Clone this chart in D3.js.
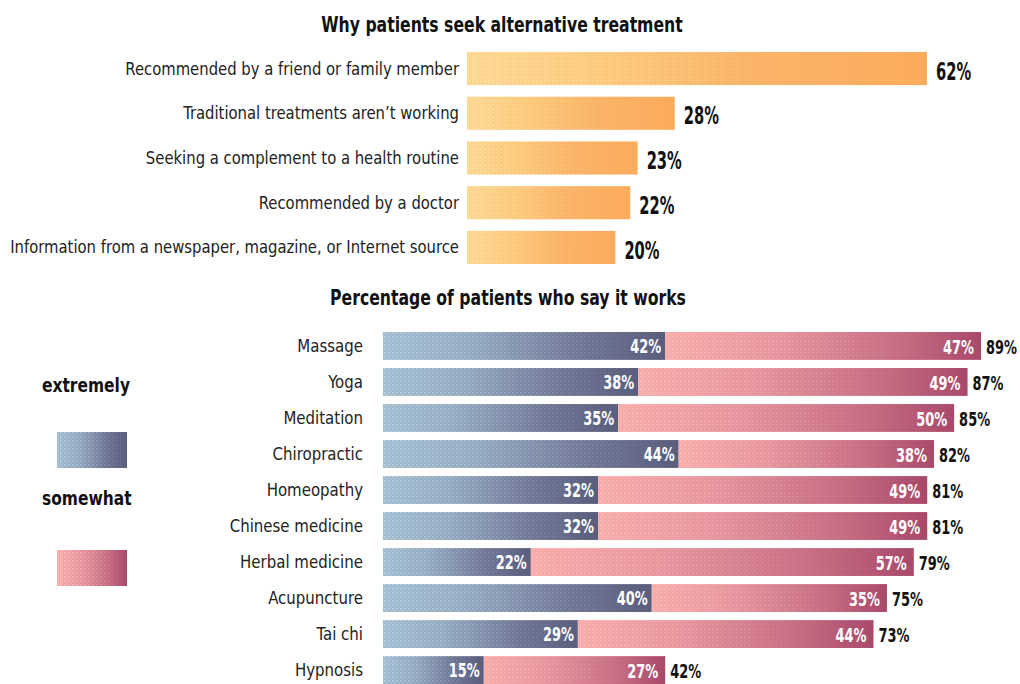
<!DOCTYPE html>
<html>
<head>
<meta charset="utf-8">
<script src="https://cdn.jsdelivr.net/npm/d3@7"></script>
<style>
  html, body { margin: 0; padding: 0; background: #fff; }
  svg { display: block; }
</style>
</head>
<body>
<svg id="chart" width="1020" height="684"></svg>
<script>
// ---------- DATA ----------
const topTitle = "Why patients seek alternative treatment";
const reasons = [
  "Recommended by a friend or family member",
  "Traditional treatments aren\u2019t working",
  "Seeking a complement to a health routine",
  "Recommended by a doctor",
  "Information from a newspaper, magazine, or Internet source"
];
const reasonValues = [62, 28, 23, 22, 20];

const bottomTitle = "Percentage of patients who say it works";
const therapies = ["Massage", "Yoga", "Meditation", "Chiropractic", "Homeopathy",
  "Chinese medicine", "Herbal medicine", "Acupuncture", "Tai chi", "Hypnosis"];
const extremely = [42, 38, 35, 44, 32, 32, 22, 40, 29, 15];
const somewhat  = [47, 49, 50, 38, 49, 49, 57, 35, 44, 27];
const totals    = [89, 87, 85, 82, 81, 81, 79, 75, 73, 42];
const legendLabels = ["extremely", "somewhat"];

// ---------- SETUP ----------
const FONT = "'DejaVu Sans Condensed', 'Liberation Sans Narrow', 'Arial Narrow', sans-serif";
const svg = d3.select("#chart");
const defs = svg.append("defs");

function grad(id, stops) {
  const g = defs.append("linearGradient").attr("id", id)
    .attr("x1", "0%").attr("x2", "100%").attr("y1", "0%").attr("y2", "0%");
  stops.forEach(s => g.append("stop").attr("offset", s[0]).attr("stop-color", s[1]));
}
grad("gOrange", [["0%", "#fdd68c"], ["30%", "#fcc878"], ["60%", "#fbb264"], ["100%", "#fbab5b"]]);
grad("gBlue", [["0%", "#9fbcd2"], ["30%", "#93aac2"], ["70%", "#6e7595"], ["100%", "#5a5d7c"]]);
grad("gPink", [["0%", "#f8aaa9"], ["35%", "#e8939c"], ["75%", "#c46a80"], ["100%", "#a9496a"]]);
grad("gFade", [["0%", "#fff"], ["60%", "#888"], ["100%", "#000"]]);

const mask = defs.append("mask").attr("id", "mFade")
  .attr("maskContentUnits", "objectBoundingBox");
mask.append("rect").attr("x", 0).attr("y", 0).attr("width", 1).attr("height", 1)
  .attr("fill", "url(#gFade)");

// dither-like dot pattern
function dots(id, color, op) {
  const p = defs.append("pattern").attr("id", id).attr("width", 4).attr("height", 4)
    .attr("patternUnits", "userSpaceOnUse");
  p.append("rect").attr("x", 0).attr("y", 0).attr("width", 1.3).attr("height", 1.3)
    .attr("fill", color).attr("opacity", op);
  p.append("rect").attr("x", 2).attr("y", 2).attr("width", 1.3).attr("height", 1.3)
    .attr("fill", color).attr("opacity", op * 0.6);
}
dots("dLight", "#ffffff", 0.45);

// condensed text helper: real text, horizontally compressed
function ctext(parent, x, y, str, opts) {
  const g = parent.append("g").attr("transform", `translate(${x},${y}) scale(${opts.sx || 1},1)`);
  return g.append("text").attr("x", 0).attr("y", 0).attr("dy", opts.dy || "0.35em")
    .attr("text-anchor", opts.anchor || "start")
    .attr("font-family", FONT).attr("font-weight", opts.bold ? "bold" : "normal")
    .attr("font-size", opts.size).attr("fill", opts.fill || "#111").text(str);
}

// ---------- TOP CHART ----------
const xTop = d3.scaleLinear().domain([0, 62]).range([467, 927]);
const yTop = d3.scaleBand().domain(reasons).range([52, 264]).paddingInner(0.26);

ctext(svg, 502, 25, topTitle, { size: 21, bold: true, sx: 0.83, anchor: "middle" });

const tg = svg.append("g");
reasons.forEach((r, i) => {
  const y = yTop(r), h = yTop.bandwidth(), w = xTop(reasonValues[i]) - xTop(0);
  tg.append("rect").attr("x", xTop(0)).attr("y", y).attr("width", w).attr("height", h)
    .attr("fill", "url(#gOrange)");
  tg.append("rect").attr("x", xTop(0)).attr("y", y).attr("width", w).attr("height", h)
    .attr("fill", "url(#dLight)").attr("mask", "url(#mFade)");
  ctext(tg, xTop(0) - 8, y + h / 2, r, { size: 17, sx: 0.97, anchor: "end", fill: "#222" });
  ctext(tg, xTop(reasonValues[i]) + 9, y + h / 2 + 2, reasonValues[i] + "%",
    { size: 24, bold: true, sx: 0.68, dy: "0.38em" });
});

// ---------- BOTTOM CHART ----------
const xBot = d3.scaleLinear().domain([0, 89]).range([383, 981]);
const yBot = d3.scaleBand().domain(therapies).range([332, 684]).paddingInner(0.226);

ctext(svg, 508, 298, bottomTitle, { size: 21, bold: true, sx: 0.83, anchor: "middle" });

const bg = svg.append("g");
therapies.forEach((t, i) => {
  const y = yBot(t), h = yBot.bandwidth();
  const x0 = xBot(0), x1 = xBot(extremely[i]), x2 = xBot(extremely[i] + somewhat[i]);
  bg.append("rect").attr("x", x0).attr("y", y).attr("width", x1 - x0).attr("height", h)
    .attr("fill", "url(#gBlue)");
  bg.append("rect").attr("x", x0).attr("y", y).attr("width", x1 - x0).attr("height", h)
    .attr("fill", "url(#dLight)").attr("mask", "url(#mFade)");
  bg.append("rect").attr("x", x1).attr("y", y).attr("width", x2 - x1).attr("height", h)
    .attr("fill", "url(#gPink)");
  bg.append("rect").attr("x", x1).attr("y", y).attr("width", x2 - x1).attr("height", h)
    .attr("fill", "url(#dLight)").attr("mask", "url(#mFade)").attr("opacity", 0.7);

  ctext(bg, 363, y + h / 2, t, { size: 17, sx: 0.98, anchor: "end", fill: "#222" });
  ctext(bg, x1 - 4, y + h / 2, extremely[i] + "%",
    { size: 20, bold: true, sx: 0.72, anchor: "end", fill: "#fff", dy: "0.36em" });
  ctext(bg, x2 - 7, y + h / 2 + 1, somewhat[i] + "%",
    { size: 20, bold: true, sx: 0.72, anchor: "end", fill: "#fff", dy: "0.36em" });
  ctext(bg, x2 + 5, y + h / 2 + 1, totals[i] + "%",
    { size: 20, bold: true, sx: 0.72, dy: "0.36em" });
});

// ---------- LEGEND ----------
const legendY = [385, 498];
const swatchY = [432, 550];
const swatchFill = ["url(#gBlue)", "url(#gPink)"];
legendLabels.forEach((l, i) => {
  ctext(svg, 42, legendY[i], l, { size: 20, bold: true, sx: 0.86 });
  svg.append("rect").attr("x", 57).attr("y", swatchY[i]).attr("width", 70).attr("height", 36)
    .attr("fill", swatchFill[i]);
  svg.append("rect").attr("x", 57).attr("y", swatchY[i]).attr("width", 70).attr("height", 36)
    .attr("fill", "url(#dLight)").attr("mask", "url(#mFade)");
});
</script>
</body>
</html>
